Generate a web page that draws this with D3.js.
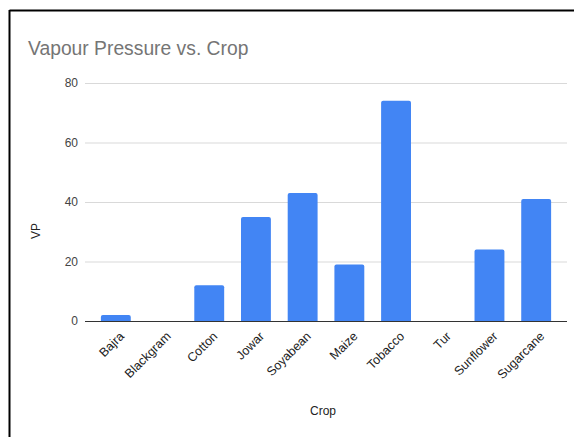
<!DOCTYPE html>
<html><head><meta charset="utf-8">
<script src="https://cdn.jsdelivr.net/npm/d3@7"></script>
<style>body{margin:0;background:#fff}svg{display:block}</style>
</head><body>
<svg id="c" width="574" height="437"></svg>
<script>
const categories = ["Bajra","Blackgram","Cotton","Jowar","Soyabean","Maize","Tobacco","Tur","Sunflower","Sugarcane"];
const values = [2, 0, 12, 35, 43, 19, 74, 0, 24, 41];
const yTicks = [0, 20, 40, 60, 80];

(function(){
const svg = d3.select("#c");
const font = "Liberation Sans, Arial, sans-serif";
// frame
svg.append("line").attr("x1",9.5).attr("x2",574).attr("y1",10.5).attr("y2",10.5).attr("stroke","#000").attr("stroke-width",2);
svg.append("line").attr("x1",9.5).attr("x2",9.5).attr("y1",10).attr("y2",437).attr("stroke","#000").attr("stroke-width",2);

const pl = 85, pr = 567, pt = 83, pb = 321;
const x = d3.scaleBand().domain(categories).range([pl, pr]).paddingInner(0.36).paddingOuter(0.34);
const y = d3.scaleLinear().domain([0, 80]).range([pb, pt]);

svg.append("text").attr("x",28).attr("y",55).attr("font-family",font).attr("font-size",19.3).attr("fill","#757575").text("Vapour Pressure vs. Crop");

const g = svg.append("g");
const yAxis = d3.axisLeft(y).tickValues(yTicks).tickSize(-(pr-pl)).tickPadding(7);
const ya = g.append("g").attr("transform",`translate(${pl},0)`).call(yAxis);
ya.select(".domain").remove();
ya.selectAll(".tick line").attr("stroke","#d9d9d9");
ya.selectAll(".tick text").attr("font-family",font).attr("font-size",12).attr("fill","#444");

function barPath(x0, y0, w, h, r) {
  r = Math.min(r, h, w/2);
  return `M${x0},${y0+h}V${y0+r}Q${x0},${y0} ${x0+r},${y0}H${x0+w-r}Q${x0+w},${y0} ${x0+w},${y0+r}V${y0+h}Z`;
}
g.selectAll("path.bar").data(categories.map((c,i)=>({c,v:values[i]})).filter(d=>d.v>0))
  .join("path").attr("class","bar").attr("fill","#4285F4")
  .attr("d", d => barPath(x(d.c), y(d.v), x.bandwidth(), y(0)-y(d.v), 2));

g.append("line").attr("x1",pl).attr("x2",pr).attr("y1",pb+0.5).attr("y2",pb+0.5).attr("stroke","#333").attr("stroke-width",1.2);

const xAxis = d3.axisBottom(x).tickSize(0).tickPadding(0);
const xa = g.append("g").attr("transform",`translate(0,${pb})`).call(xAxis);
xa.select(".domain").remove();
xa.selectAll(".tick text").attr("font-family",font).attr("font-size",12.5).attr("fill","#222")
  .attr("text-anchor","end").attr("dy",0).attr("y",0)
  .attr("transform","translate(9,16) rotate(-45)");

svg.append("text").attr("x",323).attr("y",415).attr("text-anchor","middle").attr("font-family",font).attr("font-size",12).attr("fill","#222").text("Crop");
svg.append("text").attr("transform","translate(40,231) rotate(-90)").attr("text-anchor","middle").attr("font-family",font).attr("font-size",12).attr("fill","#222").text("VP");
})();
</script>
</body></html>
